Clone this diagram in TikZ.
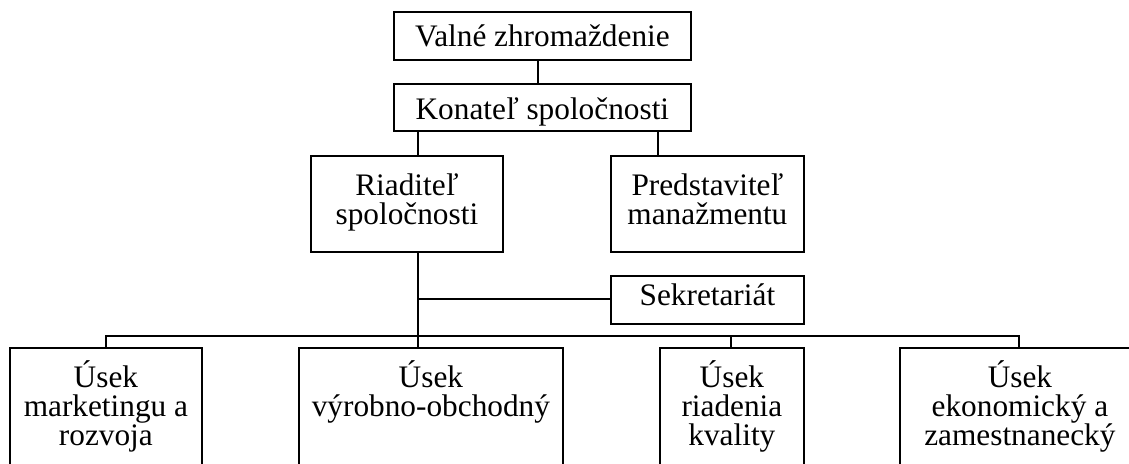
\documentclass[tikz,border=0pt]{standalone}
\usepackage{fontspec}
\setmainfont{Liberation Serif}
\usetikzlibrary{calc}

% box text: width, height, first baseline, lines
\newcommand{\boxtext}[4]{\parbox[c][#2pt][t]{#1pt}{\lineskiplimit=-1000pt\centering\rule{0pt}{#3pt}#4}}

\tikzset{
  orgbox/.style={draw, line width=1.8pt, inner sep=0pt, anchor=north west,
    font=\fontsize{31.3pt}{29pt}\selectfont},
  link/.style={line width=1.8pt}
}

\begin{document}
\begin{tikzpicture}[x=1pt, y=-1pt]

    \path[use as bounding box, fill=white] (0,0) rectangle (1129,463);

    % upper levels
    \node[orgbox] (valne) at (393,11) {\boxtext{297}{48}{35}{Valné zhromaždenie}};
    \node[orgbox] (konatel) at (393,83) {\boxtext{297}{47}{36}{Konateľ spoločnosti}};
    \node[orgbox] (riaditel) at (310,155) {\boxtext{192}{96}{40}{Riaditeľ\\spoločnosti}};
    \node[orgbox] (predstavitel) at (610,155) {\boxtext{193}{96}{40}{Predstaviteľ\\manažmentu}};
    \node[orgbox] (sekretariat) at (610,275) {\boxtext{193}{48}{30}{Sekretariát}};

    % sections
    \node[orgbox] (usek1) at (9,347) {\boxtext{192}{173}{40}{Úsek\\marketingu a\\rozvoja}};
    \node[orgbox] (usek2) at (298,347) {\boxtext{264}{173}{40}{Úsek\\výrobno-obchodný}};
    \node[orgbox] (usek3) at (659,347) {\boxtext{144}{173}{40}{Úsek\\riadenia\\kvality}};
    \node[orgbox] (usek4) at (899,347) {\boxtext{240}{173}{40}{Úsek\\ekonomický a\\zamestnanecký}};

    % where the lines run
    \coordinate (trunk) at (538,0);
    \coordinate (spine) at (418,0);
    \coordinate (mgmt) at (658,0);
    \coordinate (secline) at (0,299);
    \coordinate (bus) at (0,336);
    \coordinate (drop1) at (106,0);
    \coordinate (drop3) at (731,0);
    \coordinate (drop4) at (1019,0);

    \draw[link] (valne.south -| trunk) -- (konatel.north -| trunk);
    \draw[link] (konatel.south -| spine) -- (riaditel.north -| spine);
    \draw[link] (konatel.south -| mgmt) -- (predstavitel.north -| mgmt);
    \draw[link] (riaditel.south -| spine) -- (usek2.north -| spine);
    \draw[link] (secline -| spine) -- (secline -| sekretariat.west);
    \draw[link] (usek1.north -| drop1) |- (bus -| drop4) -- (usek4.north -| drop4);
    \draw[link] (bus -| drop3) -- (usek3.north -| drop3);

\end{tikzpicture}
\end{document}
